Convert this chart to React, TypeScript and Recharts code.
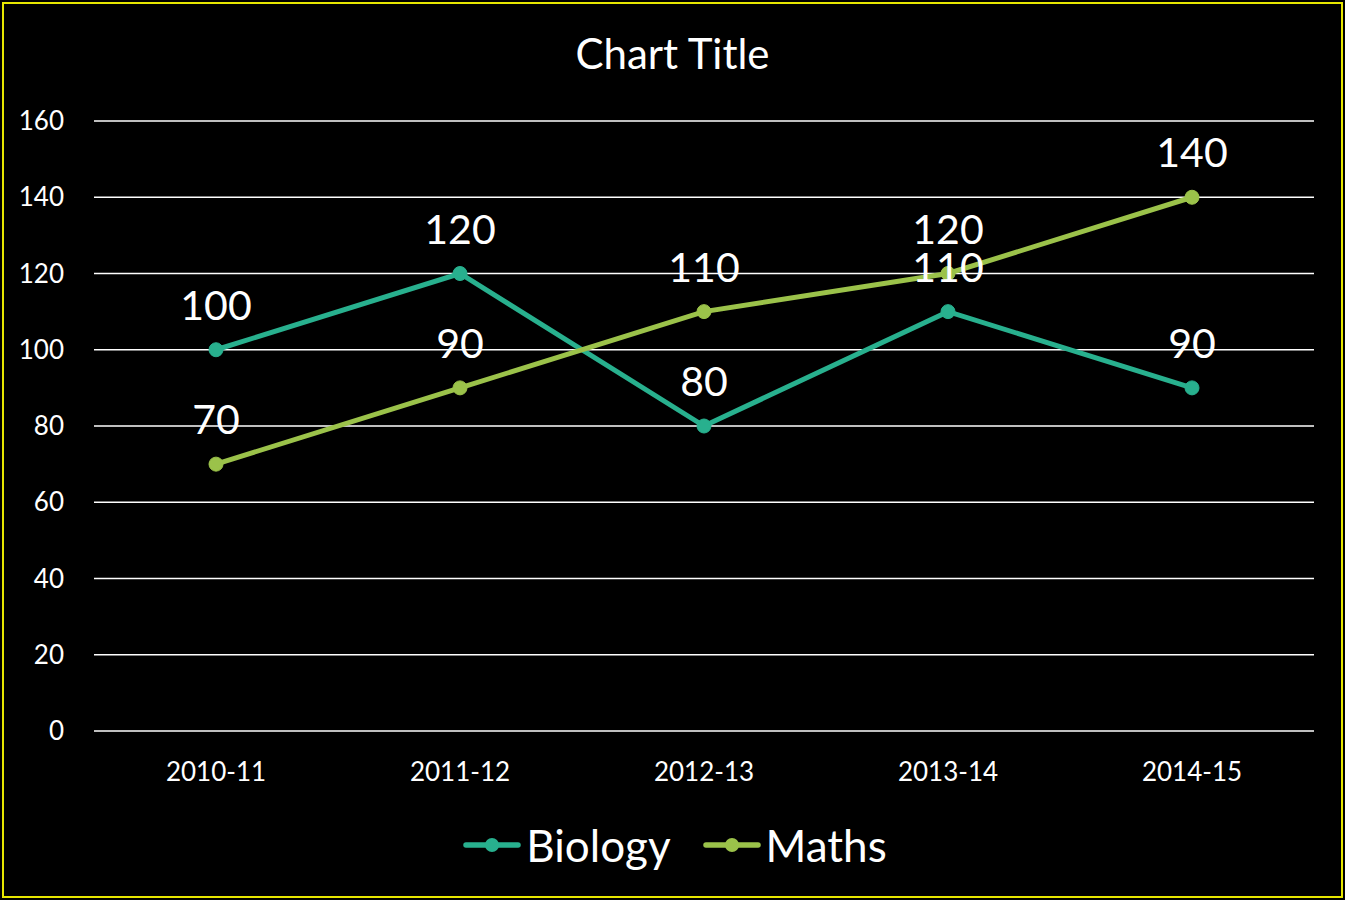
// @ts-nocheck
import { LineChart, Line, XAxis, YAxis, CartesianGrid, Legend, LabelList } from "recharts"

const years = ["2010-11", "2011-12", "2012-13", "2013-14", "2014-15"]
const biology = [100, 120, 80, 110, 90]
const maths = [70, 90, 110, 120, 140]
const yTicks = [0, 20, 40, 60, 80, 100, 120, 140, 160]

const data = years.map((year, i) => ({ year, Biology: biology[i], Maths: maths[i] }))

const FONT = "Lato, 'Open Sans', sans-serif"
const BIO = "#28b08e"
const MATHS = "#9bc24a"

function LegendContent({ payload }) {
    return (
        <div style={{ display: "flex", justifyContent: "center", alignItems: "center", height: 70, gap: 32, paddingLeft: 36 }}>
            {payload.map((entry) => (
                <div key={entry.value} style={{ display: "flex", alignItems: "center" }}>
                    <svg width={58} height={16} style={{ marginRight: 5 }}>
                        <line x1={3} y1={8} x2={55} y2={8} stroke={entry.color} strokeWidth={5.5} strokeLinecap="round" />
                        <circle cx={29} cy={8} r={7} fill={entry.color} />
                    </svg>
                    <span style={{ color: "#fff", fontSize: 44, fontFamily: FONT }}>{entry.value}</span>
                </div>
            ))}
        </div>
    )
}

export default function App() {
    return (
        <div style={{ position: "absolute", left: 0, top: 0, width: 1345, height: 900, background: "#000", overflow: "hidden" }}>
            <div style={{ position: "absolute", left: 2, top: 2, right: 2, bottom: 2, border: "2px solid #e6e600", pointerEvents: "none" }} />
            <div style={{ position: "absolute", left: 0, width: 1345, top: 28, textAlign: "center", color: "#fff", fontSize: 42, fontFamily: FONT }}>
                Chart Title
            </div>
            <LineChart width={1345} height={900} data={data} margin={{ top: 121, right: 31, bottom: 20, left: 0 }}>
                <CartesianGrid vertical={false} stroke="#ffffff" strokeWidth={1.6} />
                <XAxis
                    dataKey="year"
                    axisLine={false}
                    tickLine={false}
                    tickSize={0}
                    tickMargin={32}
                    height={79}
                    padding={{ left: 122, right: 122 }}
                    tick={{ fill: "#fff", fontSize: 26, fontFamily: FONT }}
                />
                <YAxis
                    domain={[0, 160]}
                    ticks={yTicks}
                    axisLine={false}
                    tickLine={false}
                    tickSize={0}
                    tickMargin={30}
                    width={94}
                    tick={{ fill: "#fff", fontSize: 26, fontFamily: FONT }}
                />
                <Legend verticalAlign="bottom" content={<LegendContent />} />
                <Line dataKey="Biology" stroke={BIO} strokeWidth={5} dot={{ r: 7, fill: BIO, stroke: BIO, strokeWidth: 1 }} isAnimationActive={false}>
                    <LabelList dataKey="Biology" position="top" offset={30} fill="#fff" fontSize={41} fontFamily={FONT} />
                </Line>
                <Line dataKey="Maths" stroke={MATHS} strokeWidth={5} dot={{ r: 7, fill: MATHS, stroke: MATHS, strokeWidth: 1 }} isAnimationActive={false}>
                    <LabelList dataKey="Maths" position="top" offset={30} fill="#fff" fontSize={41} fontFamily={FONT} />
                </Line>
            </LineChart>
        </div>
    )
}
